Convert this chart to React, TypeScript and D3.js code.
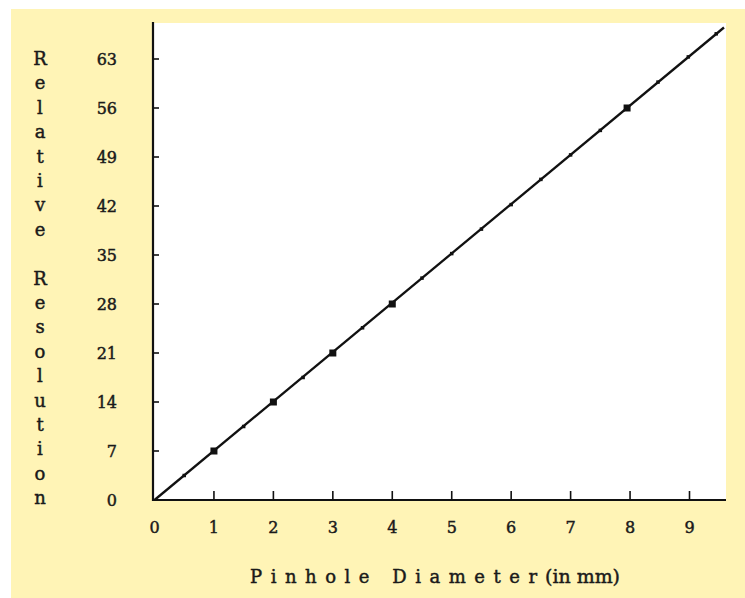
import React from "react";
import * as d3 from "d3";

const xTicks = [0, 1, 2, 3, 4, 5, 6, 7, 8, 9];
const yTicks = [0, 7, 14, 21, 28, 35, 42, 49, 56, 63];
const lineX = [0, 9.58];
const lineY = [0, 67.5];
const bigX = [1, 2, 3, 4, 7.95];
const bigY = [7, 14, 21, 28, 56];
const smallX = [0.5, 1.5, 2.5, 3.5, 4.5, 5, 5.5, 6, 6.5, 7, 7.5, 8.47, 8.98, 9.45];
const smallY = [3.5, 10.5, 17.5, 24.6, 31.7, 35.2, 38.7, 42.2, 45.8, 49.3, 52.8, 59.7, 63.3, 66.6];
const yLabel = "Relative Resolution";
const xLabelMain = "Pinhole Diameter";
const xLabelUnit = "(in mm)";

const W = 745;
const H = 598;
const FONT = "'DejaVu Serif', 'Liberation Serif', serif";

export default function App() {
  const x = d3.scaleLinear().domain([0, 9]).range([154.5, 689.5]);
  const y = d3.scaleLinear().domain([0, 63]).range([500, 59]);
  const plotLeft = 153;
  const plotRight = 726;
  const plotTop = 23;
  const plotBottom = 500;
  const line = d3
    .line<number>()
    .x((d) => x(d))
    .y((_, i) => y(lineY[i]));

  const textStyle = {
    fontFamily: FONT,
    fill: "#1a1a1a",
    stroke: "#1a1a1a",
    strokeWidth: 0.45,
  } as React.CSSProperties;

  return (
    <svg
      width={W}
      height={H}
      style={{ position: "absolute", left: 0, top: 0, display: "block" }}
    >
      <rect x={11} y={9} width={W - 11} height={H - 9} fill="#FFF4B6" />
      <rect
        x={plotLeft}
        y={plotTop}
        width={plotRight - plotLeft}
        height={plotBottom - plotTop}
        fill="#FFFFFF"
      />
      {/* axes */}
      <line x1={plotLeft} y1={plotTop - 1} x2={plotLeft} y2={plotBottom + 1} stroke="#111" strokeWidth={2.2} />
      <line x1={plotLeft - 1} y1={plotBottom} x2={plotRight} y2={plotBottom} stroke="#111" strokeWidth={2.2} />
      {/* y ticks */}
      {yTicks.map((t) => (
        <g key={"y" + t}>
          {t > 0 && (
            <line x1={plotLeft} x2={plotLeft + 6} y1={y(t)} y2={y(t)} stroke="#111" strokeWidth={1.6} />
          )}
          <text x={117} y={y(t) + 6} textAnchor="end" fontSize={16} style={textStyle}>
            {t}
          </text>
        </g>
      ))}
      {/* x ticks */}
      {xTicks.map((t) => (
        <g key={"x" + t}>
          {t > 0 && (
            <line x1={x(t)} x2={x(t)} y1={plotBottom} y2={plotBottom - 9} stroke="#111" strokeWidth={1.6} />
          )}
          <text x={x(t)} y={533} textAnchor="middle" fontSize={16} style={textStyle}>
            {t}
          </text>
        </g>
      ))}
      {/* line */}
      <path d={line(lineX) || ""} fill="none" stroke="#111" strokeWidth={2.3} />
      {smallX.map((v, i) => (
        <rect
          key={"s" + i}
          x={x(v) - 1.75}
          y={y(smallY[i]) - 1.75}
          width={3.5}
          height={3.5}
          fill="#111"
        />
      ))}
      {bigX.map((v, i) => (
        <rect
          key={"b" + i}
          x={x(v) - 3.5}
          y={y(bigY[i]) - 3.5}
          width={7}
          height={7}
          fill="#111"
        />
      ))}
      {/* y label, stacked letters */}
      {yLabel.split("").map((ch, i) => (
        <text
          key={"l" + i}
          x={40}
          y={65 + i * 24.4}
          textAnchor="middle"
          fontSize={18}
          style={textStyle}
        >
          {ch}
        </text>
      ))}
      {/* x label */}
      <text
        x={250}
        y={583}
        fontSize={18}
        textLength={287}
        lengthAdjust="spacing"
        style={textStyle}
      >
        {xLabelMain}
      </text>
      <text
        x={545}
        y={583}
        fontSize={18}
        textLength={75}
        lengthAdjust="spacingAndGlyphs"
        style={textStyle}
      >
        {xLabelUnit}
      </text>
    </svg>
  );
}
